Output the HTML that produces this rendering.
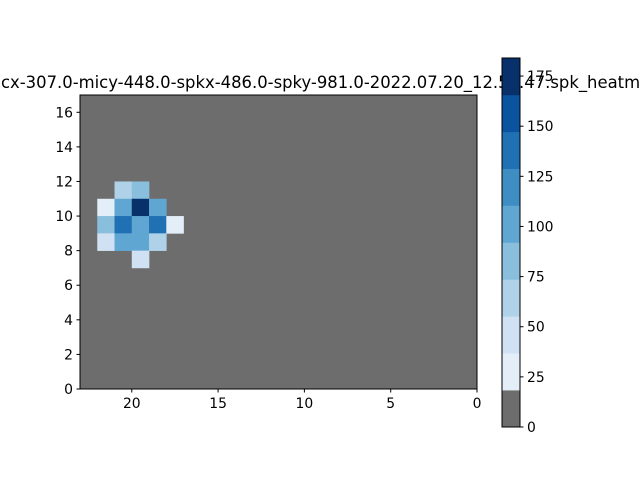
<!DOCTYPE html>
<html><head><meta charset="utf-8"><style>
body{margin:0;background:#fff;}
svg{display:block;font-family:"DejaVu Sans","Liberation Sans",sans-serif;}
</style></head><body>
<svg id="c" width="640" height="480" viewBox="0 0 640 480">
<g id="plot"></g>
<text id="title" x="0" y="88" font-size="16.7">micx-307.0-micy-448.0-spkx-486.0-spky-981.0-2022.07.20_12.56.47.spk_heatmap</text>
<g id="cbar"></g>
</svg>
<script>
const cellX = [20,19,21,20,19,18,21,20,19,18,17,21,20,19,18,19];
const cellY = [11,11,10,10,10,10,9,9,9,9,9,8,8,8,8,7];
const cellV = [70,85,30,105,180,105,85,140,105,140,30,50,105,105,70,50];
const xTicks = [20,15,10,5,0];
const yTicks = [0,2,4,6,8,10,12,14,16];
const cbTicks = [0,25,50,75,100,125,150,175];
const vmax = 184;
const colors = ['#6d6d6d','#e3eef9','#cfe1f2','#b0d2e8','#89bfdd','#60a6d2','#3e8ec4','#2070b4','#0a539e','#08306b'];

const NS='http://www.w3.org/2000/svg';
function mk(t,a,p){const e=document.createElementNS(NS,t);for(const k in a)e.setAttribute(k,a[k]);p.appendChild(e);return e;}
const L=80,R=477,T=95,B=389;
const sx=v=>R-(v/23)*(R-L);
const sy=v=>B-(v/17)*(B-T);
const plot=document.getElementById('plot');
const bg=mk('rect',{x:L,y:T,width:R-L,height:B-T,fill:colors[0]},plot);


function colorFor(v){let i=Math.floor(v/(vmax/10));if(i<0)i=0;if(i>9)i=9;return colors[i];}
for(let i=0;i<cellV.length;i++){
  const x0=sx(cellX[i]+1),x1=sx(cellX[i]),y0=sy(cellY[i]+1),y1=sy(cellY[i]);
  const r=mk('rect',{x:x0,y:y0,width:x1-x0+0.3,height:y1-y0+0.3,fill:colorFor(cellV[i])},plot);
  
  
}
const fr=mk('rect',{x:L,y:T,width:R-L,height:B-T,fill:'none',stroke:'#000','stroke-width':1},plot);


xTicks.forEach(t=>{
  const x=sx(t);
  mk('line',{x1:x,x2:x,y1:B,y2:B+3.5,stroke:'#000'},plot);
  const tx=mk('text',{x:x,y:B+19,'font-size':13.9,'text-anchor':'middle'},plot);
  tx.textContent=t;
  
  
});
yTicks.forEach(t=>{
  const y=sy(t);
  mk('line',{x1:L-3.5,x2:L,y1:y,y2:y,stroke:'#000'},plot);
  const tx=mk('text',{x:L-7,y:y+5,'font-size':13.9,'text-anchor':'end'},plot);
  tx.textContent=t;
  
  
});
const cb=document.getElementById('cbar');
const CL=502,CR=520,CT=58,CB=427;
const cy=v=>CB-(v/vmax)*(CB-CT);
for(let i=0;i<10;i++){
  const y0=cy((i+1)*vmax/10),y1=cy(i*vmax/10);
  const r=mk('rect',{x:CL,y:y0,width:CR-CL,height:y1-y0+0.3,fill:colors[i]},cb);
  
  
}
mk('rect',{x:CL,y:CT,width:CR-CL,height:CB-CT,fill:'none',stroke:'#000'},cb);
cbTicks.forEach(t=>{
  const y=cy(t);
  mk('line',{x1:CR,x2:CR+3.5,y1:y,y2:y,stroke:'#000'},cb);
  const tx=mk('text',{x:CR+7,y:y+5,'font-size':13.9},cb);
  tx.textContent=t;
  
  
});
(function(){
  const t=document.getElementById('title');
  const s=t.textContent;
  const i0=2, i1=s.lastIndexOf('heatm')+4;
  try{
    let a=t.getStartPositionOfChar(i0).x, b=t.getEndPositionOfChar(i1).x;
    const fs=16.7*639/(b-a);
    t.setAttribute('font-size',fs);
    a=t.getStartPositionOfChar(i0).x;
    t.setAttribute('x',1-a);
  }catch(e){}
})();
</script>
</body></html>
